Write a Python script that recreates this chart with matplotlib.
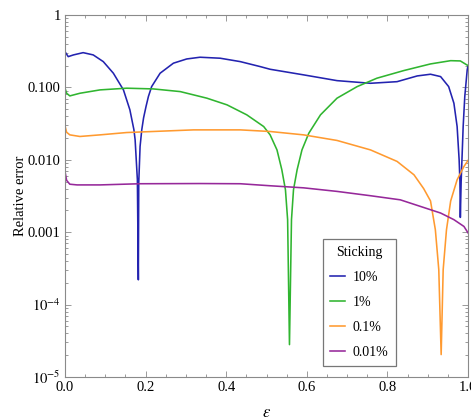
import matplotlib
matplotlib.use("Agg")
import matplotlib.pyplot as plt
from matplotlib.ticker import FixedLocator, FixedFormatter, LogLocator, MultipleLocator, NullFormatter

plt.rcParams['font.family'] = ['Liberation Serif', 'DejaVu Serif']
plt.rcParams['mathtext.fontset'] = 'stix'

# ---- data ----
blue_x = [0.0, 0.0025, 0.008, 0.021, 0.045, 0.070, 0.095, 0.12, 0.145, 0.161, 0.171, 0.174,
          0.1796, 0.182, 0.183, 0.1863, 0.1905, 0.195, 0.201, 0.207, 0.215, 0.236, 0.269,
          0.302, 0.335, 0.385, 0.435, 0.484, 0.509, 0.592, 0.675, 0.758, 0.824, 0.874,
          0.907, 0.932, 0.952, 0.965, 0.973, 0.978, 0.980, 0.981, 0.983, 0.985, 0.988,
          0.992, 0.998, 1.0]
blue_y = [0.31, 0.296, 0.266, 0.281, 0.302, 0.281, 0.227, 0.157, 0.0924, 0.049, 0.026, 0.0189,
          0.0053, 2.2e-4, 0.0048, 0.0153, 0.026, 0.038, 0.0543, 0.075, 0.1026, 0.157, 0.216,
          0.247, 0.261, 0.253, 0.227, 0.194, 0.178, 0.149, 0.124, 0.114, 0.12, 0.144,
          0.152, 0.141, 0.1026, 0.0605, 0.0288, 0.01, 0.005, 0.0016, 0.005, 0.01, 0.0288,
          0.0747, 0.174, 0.2]

green_x = [0.0, 0.004, 0.012, 0.037, 0.087, 0.153, 0.219, 0.286, 0.352, 0.402, 0.451, 0.493,
           0.509, 0.526, 0.538, 0.547, 0.5524, 0.557, 0.562, 0.567, 0.576, 0.588, 0.605,
           0.634, 0.675, 0.725, 0.774, 0.841, 0.907, 0.957, 0.981, 1.0]
green_y = [0.0975, 0.083, 0.0763, 0.083, 0.0924, 0.0975, 0.0953, 0.0875, 0.071, 0.0574,
           0.0418, 0.0288, 0.0221, 0.0137, 0.0073, 0.00386, 0.00149, 2.8e-5, 0.00149,
           0.00386, 0.0073, 0.0137, 0.0233, 0.0418, 0.071, 0.1026, 0.134, 0.171, 0.211,
           0.234, 0.232, 0.2]

orange_x = [0.0, 0.004, 0.012, 0.037, 0.087, 0.153, 0.319, 0.435, 0.509, 0.592, 0.675, 0.758,
            0.824, 0.866, 0.890, 0.907, 0.919, 0.9275, 0.9334, 0.9384, 0.9466, 0.957,
            0.973, 0.990, 1.0]
orange_y = [0.0294, 0.024, 0.0221, 0.021, 0.0221, 0.0238, 0.0259, 0.0259, 0.0246, 0.0221,
            0.0185, 0.0137, 0.0095, 0.0062, 0.0040, 0.0027, 0.00108, 3.04e-4, 2.04e-5,
            3.04e-4, 0.00108, 0.0027, 0.0053, 0.0081, 0.0098]

purple_x = [0.0, 0.004, 0.012, 0.03, 0.087, 0.186, 0.335, 0.435, 0.509, 0.592, 0.675, 0.758,
            0.832, 0.882, 0.932, 0.965, 0.99, 1.0]
purple_y = [0.0069, 0.0052, 0.0046, 0.0045, 0.0045, 0.00467, 0.0047, 0.00467, 0.00438,
            0.0041, 0.00366, 0.00319, 0.0028, 0.00227, 0.00184, 0.00149, 0.0012, 0.00098]

series_labels = ["10%", "1%", "0.1%", "0.01%"]
series_colors = ["#2323b0", "#30b530", "#ff9a30", "#96289a"]

ytick_vals = [1, 0.1, 0.01, 0.001, 1e-4, 1e-5]
ytick_labels = ["1", "0.100", "0.010", "0.001", r"$10^{-4}$", r"$10^{-5}$"]
xtick_vals = [0.0, 0.2, 0.4, 0.6, 0.8, 1.0]
xtick_labels = ["0.0", "0.2", "0.4", "0.6", "0.8", "1.0"]

# ---- figure ----
fig = plt.figure(figsize=(4.71, 4.20), dpi=100)
ax = fig.add_axes([65/471, 43/420, 403/471, 362/420])

xs = [blue_x, green_x, orange_x, purple_x]
ys = [blue_y, green_y, orange_y, purple_y]
for x, y, lab, c in zip(xs, ys, series_labels, series_colors):
    ax.plot(x, y, color=c, lw=1.15, label=lab, solid_joinstyle='round')

ax.set_yscale('log')
ax.set_xlim(0, 1)
ax.set_ylim(1e-5, 1)

ax.yaxis.set_major_locator(FixedLocator(ytick_vals))
ax.yaxis.set_major_formatter(FixedFormatter(ytick_labels))
ax.yaxis.set_minor_locator(LogLocator(base=10, subs=range(2, 10)))
ax.yaxis.set_minor_formatter(NullFormatter())
ax.xaxis.set_major_locator(FixedLocator(xtick_vals))
ax.xaxis.set_major_formatter(FixedFormatter(xtick_labels))
ax.xaxis.set_minor_locator(MultipleLocator(0.05))

spine_c = "#8a8a8a"
for s in ax.spines.values():
    s.set_color(spine_c)
    s.set_linewidth(0.8)
ax.tick_params(which='both', direction='in', top=True, right=True, color=spine_c,
               labelsize=10.5, labelcolor='black', width=0.6)
ax.tick_params(which='major', length=4.5, pad=3)
ax.tick_params(which='minor', length=2.5)

ax.set_ylabel("Relative error", fontsize=10.5, labelpad=1)
ax.set_xlabel(r"$\epsilon$", fontsize=12, labelpad=8)

leg = ax.legend(title="Sticking", loc='lower left', bbox_to_anchor=(0.639, 0.030),
                borderaxespad=0.0, fontsize=10, title_fontsize=10, frameon=True,
                fancybox=False, handlelength=1.1, handletextpad=0.5, borderpad=0.55,
                labelspacing=0.85)
leg.get_frame().set_edgecolor("#555555")
leg.get_frame().set_linewidth(0.9)

fig.savefig("out.png", dpi=100)
